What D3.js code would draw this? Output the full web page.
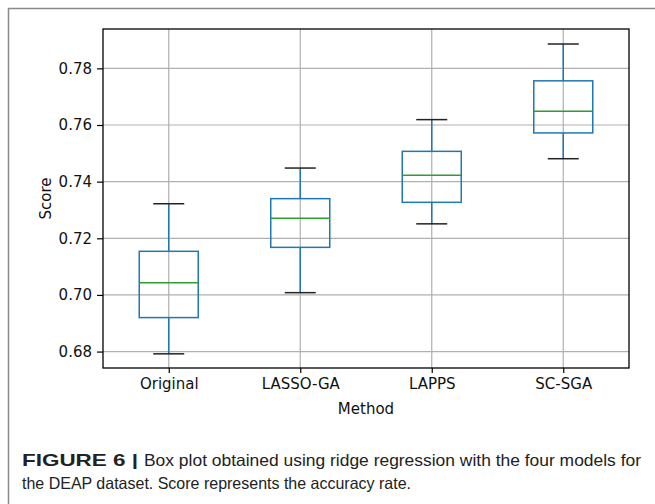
<!DOCTYPE html>
<html>
<head>
<meta charset="utf-8">
<script src="https://cdn.jsdelivr.net/npm/d3@7"></script>
<style>
  body { margin: 0; background: #fff; }
  .tick text { font-family: "DejaVu Sans", sans-serif; }
  .caption { font-family: "Liberation Sans", Arial, sans-serif; fill: #222; }
</style>
</head>
<body>
<div id="chart"></div>
<script>
// values
const methods = ["Original", "LASSO-GA", "LAPPS", "SC-SGA"];
const whiskerLow = [0.6792, 0.7008, 0.7251, 0.7481];
const q1 = [0.6920, 0.7168, 0.7327, 0.7572];
const median = [0.7043, 0.7271, 0.7423, 0.7649];
const q3 = [0.7154, 0.7340, 0.7507, 0.7756];
const whiskerHigh = [0.7322, 0.7448, 0.7619, 0.7886];
const yTicks = [0.68, 0.70, 0.72, 0.74, 0.76, 0.78];

const width = 655, height = 504;
const plot = { left: 103, right: 629, top: 29, bottom: 368 };

const svg = d3.select("#chart")
    .append("svg")
    .attr("width", width)
    .attr("height", height);

// outer figure frame (open to the right and bottom)
svg.append("path")
    .attr("d", `M8.5,${height} V8.5 H${width}`)
    .attr("fill", "none")
    .attr("stroke", "#8a8a8a")
    .attr("stroke-width", 1.5);

const x = d3.scalePoint()
    .domain(methods)
    .range([plot.left, plot.right])
    .padding(0.5);

const y = d3.scaleLinear()
    .domain([0.6742, 0.7939])
    .range([plot.bottom, plot.top]);

// grid
const grid = svg.append("g").attr("stroke", "#b0b0b0").attr("stroke-width", 1.2);
grid.selectAll(".gy").data(yTicks).enter().append("line")
    .attr("x1", plot.left).attr("x2", plot.right)
    .attr("y1", d => y(d)).attr("y2", d => y(d));
grid.selectAll(".gx").data(methods).enter().append("line")
    .attr("x1", d => x(d)).attr("x2", d => x(d))
    .attr("y1", plot.top).attr("y2", plot.bottom);

// axes
const yAxis = svg.append("g")
    .attr("transform", `translate(${plot.left},0)`)
    .call(d3.axisLeft(y).tickValues(yTicks).tickFormat(d3.format(".2f")).tickSize(6).tickPadding(5));
const xAxis = svg.append("g")
    .attr("transform", `translate(0,${plot.bottom})`)
    .call(d3.axisBottom(x).tickSize(5).tickPadding(5));
[yAxis, xAxis].forEach(a => {
    a.select(".domain").remove();
    a.selectAll(".tick line").attr("stroke", "#000").attr("stroke-width", 1.2);
    a.selectAll(".tick text").attr("fill", "#111").style("font-size", "15px");
});

// boxes
const boxW = 59, capW = 31;
const data = methods.map((m, i) => ({
    m, lo: whiskerLow[i], q1: q1[i], med: median[i], q3: q3[i], hi: whiskerHigh[i]
}));
const g = svg.selectAll(".box").data(data).enter().append("g").attr("class", "box");

g.append("line")
    .attr("x1", d => x(d.m)).attr("x2", d => x(d.m))
    .attr("y1", d => y(d.hi)).attr("y2", d => y(d.q3))
    .attr("stroke", "#1f77b4").attr("stroke-width", 1.5);
g.append("line")
    .attr("x1", d => x(d.m)).attr("x2", d => x(d.m))
    .attr("y1", d => y(d.q1)).attr("y2", d => y(d.lo))
    .attr("stroke", "#1f77b4").attr("stroke-width", 1.5);
g.append("rect")
    .attr("x", d => x(d.m) - boxW / 2)
    .attr("y", d => y(d.q3))
    .attr("width", boxW)
    .attr("height", d => y(d.q1) - y(d.q3))
    .attr("fill", "none")
    .attr("stroke", "#1f77b4").attr("stroke-width", 1.5);
g.append("line")
    .attr("x1", d => x(d.m) - boxW / 2).attr("x2", d => x(d.m) + boxW / 2)
    .attr("y1", d => y(d.med)).attr("y2", d => y(d.med))
    .attr("stroke", "#2ca02c").attr("stroke-width", 1.5);
["lo", "hi"].forEach(k => {
    g.append("line")
        .attr("x1", d => x(d.m) - capW / 2).attr("x2", d => x(d.m) + capW / 2)
        .attr("y1", d => y(d[k])).attr("y2", d => y(d[k]))
        .attr("stroke", "#222").attr("stroke-width", 1.5);
});

// plot frame
svg.append("rect")
    .attr("x", plot.left).attr("y", plot.top)
    .attr("width", plot.right - plot.left)
    .attr("height", plot.bottom - plot.top)
    .attr("fill", "none")
    .attr("stroke", "#000").attr("stroke-width", 1.3);

// axis labels
svg.append("text")
    .attr("x", (plot.left + plot.right) / 2).attr("y", 414)
    .attr("text-anchor", "middle")
    .style("font-family", "DejaVu Sans, sans-serif").style("font-size", "15px")
    .attr("fill", "#111")
    .text("Method");
svg.append("text")
    .attr("transform", `translate(51,${(plot.top + plot.bottom) / 2})rotate(-90)`)
    .attr("text-anchor", "middle")
    .style("font-family", "DejaVu Sans, sans-serif").style("font-size", "15px")
    .attr("fill", "#111")
    .text("Score");

// caption
svg.append("text").attr("class", "caption")
    .attr("x", 22).attr("y", 466).style("font-size", "16.5px").style("font-weight", "bold")
    .attr("textLength", 116).attr("lengthAdjust", "spacingAndGlyphs")
    .text("FIGURE 6 |");
svg.append("text").attr("class", "caption")
    .attr("x", 144).attr("y", 466).style("font-size", "16.5px")
    .attr("textLength", 497).attr("lengthAdjust", "spacingAndGlyphs")
    .text("Box plot obtained using ridge regression with the four models for");
svg.append("text").attr("class", "caption")
    .attr("x", 22).attr("y", 489).style("font-size", "16.5px")
    .attr("textLength", 389).attr("lengthAdjust", "spacingAndGlyphs")
    .text("the DEAP dataset. Score represents the accuracy rate.");
</script>
</body>
</html>
